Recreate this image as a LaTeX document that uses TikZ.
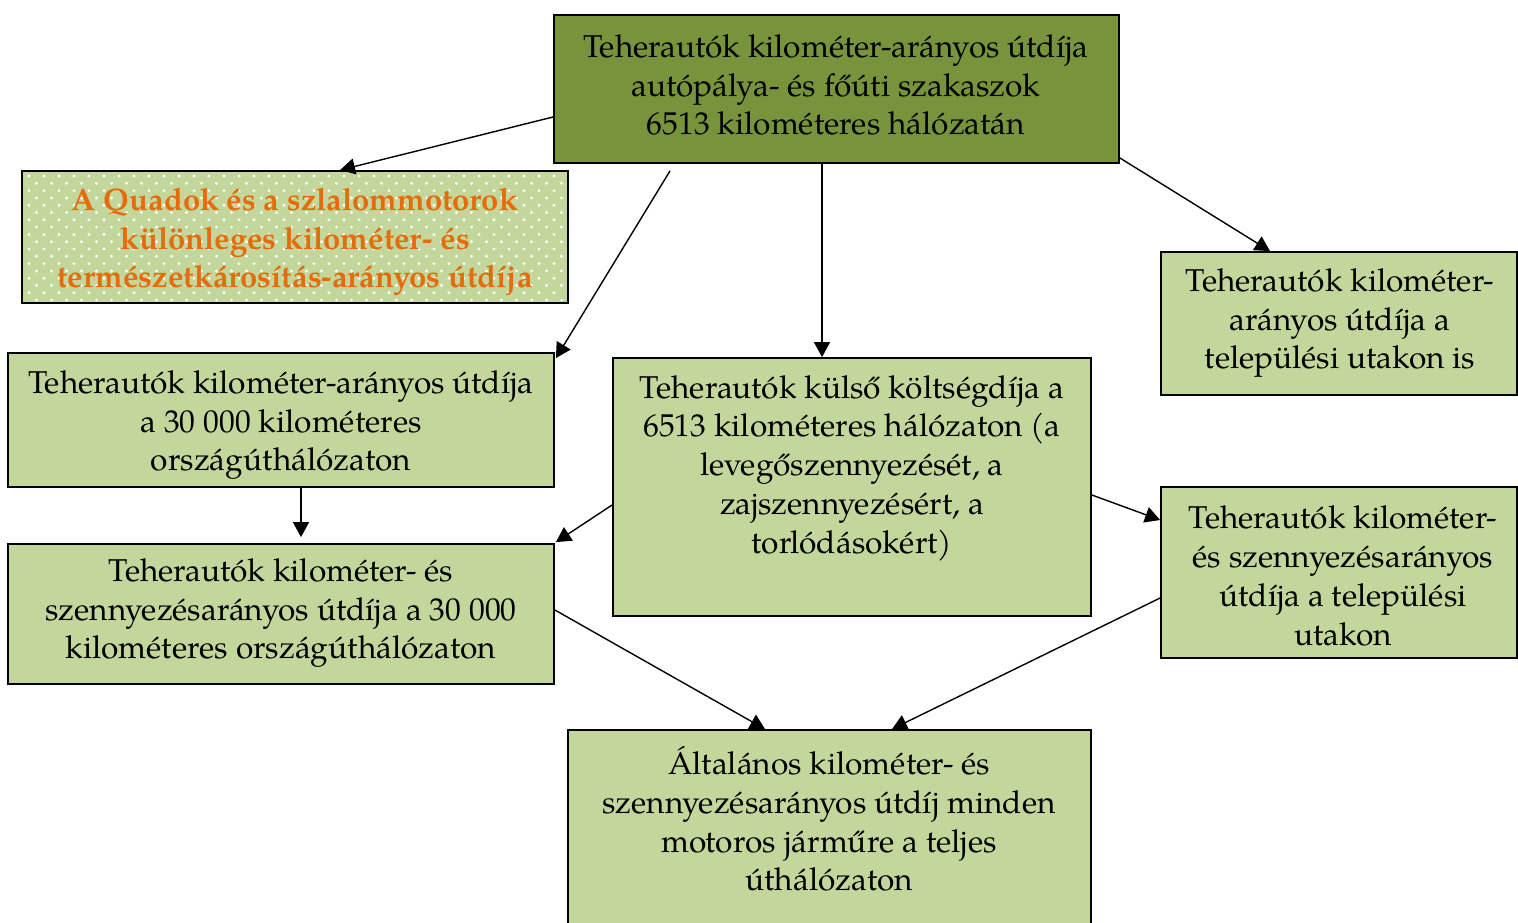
\documentclass[tikz,border=0pt]{standalone}
\usepackage{fontspec}
\setmainfont{texgyrepagella}[Extension=.otf,UprightFont=*-regular,BoldFont=*-bold,ItalicFont=*-italic,BoldItalicFont=*-bolditalic]
\usetikzlibrary{arrows.meta,fit,calc}
\definecolor{darkgreen}{HTML}{77933C}
\definecolor{lightgreen}{HTML}{C3D69B}
\definecolor{quadorange}{HTML}{E46C0A}
\tikzset{
  box/.style={draw=black,line width=0.9pt,rectangle,inner sep=0pt,fill=lightgreen},
  darkbox/.style={box,fill=darkgreen},
  txt/.style={align=center,inner sep=0pt,font=\fontsize{15.8}{19.4}\selectfont},
  quadtxt/.style={txt,text=quadorange,font=\fontsize{15.5}{19.2}\selectfont\bfseries},
  arr/.style={line width=0.7pt,-{Triangle[length=7.5pt,width=8pt]}}
}
\begin{document}
\begin{tikzpicture}[x=0.5pt,y=-0.5pt]
\useasboundingbox (0,0) rectangle (1518,922);
% boxes
\node[darkbox,fit={(554,15) (1119,163)}] (top) {};
\node[box,fit={(22,171) (568,303)}] (quad) {};
\begin{scope}
  \clip (23,172) rectangle (567,302);
  \foreach \r in {0,...,18}{
    \pgfmathsetmacro{\yy}{176+7.3*\r}
    \pgfmathsetmacro{\off}{mod(\r,2)*7.5}
    \foreach \c in {0,...,37}{
      \fill[white] ({29+\off+15*\c},\yy) circle (0.8pt);
    }
  }
\end{scope}
\node[box,fit={(8,353) (554,487)}] (L1) {};
\node[box,fit={(613,358) (1091,616)}] (mid) {};
\node[box,fit={(1161,252) (1517,395)}] (RT) {};
\node[box,fit={(8,544) (554,684)}] (L2) {};
\node[box,fit={(1161,487) (1517,658)}] (RB) {};
\node[box,fit={(568,730) (1091,940)}] (bot) {};
% texts
\node[txt] (topT) at (836,85) {Teherautók kilométer-arányos útdíja\\autópálya- és főúti szakaszok\\6513 kilométeres hálózatán};
\node[quadtxt] (quadT) at (295,242) {A Quadok és a szlalommotorok\\különleges kilométer- és\\természetkárosítás-arányos útdíja};
\node[txt] (L1T) at (281,425) {Teherautók kilométer-arányos útdíja\\a 30 000 kilométeres\\országúthálózaton};
\node[txt] (midT) at (852,468) {Teherautók külső költségdíja a\\6513 kilométeres hálózaton (a\\levegőszennyezését, a\\zajszennyezésért, a\\torlódásokért)};
\node[txt] (RTT) at (1340,323) {Teherautók kilométer-\\arányos útdíja a\\települési utakon is};
\node[txt] (L2T) at (281,613) {Teherautók kilométer- és\\szennyezésarányos útdíja a 30 000\\kilométeres országúthálózaton};
\node[txt] (RBT) at (1343,576) {Teherautók kilométer-\\és szennyezésarányos\\útdíja a települési\\utakon};
\node[txt] (botT) at (829,819) {Általános kilométer- és\\szennyezésarányos útdíj minden\\motoros járműre a teljes\\úthálózaton};
% connectors
\draw[arr] (top.west |- 0,117) -- (quad.north -| 340,0);
\draw[arr] ($(top.south -| 670,0)+(0,7)$) -- ($(L1.north east)+(1,6)$);
\draw[arr] (top.south -| 822,0) -- (mid.north -| 822,0);
\draw[arr] (top.east |- 0,158) -- (RT.north -| 1270,0);
\draw[arr] (L1.south -| 301,0) -- ($(L2.north -| 301,0)+(0,-6)$);
\draw[arr] (mid.west |- 0,505) -- ($(L2.north east)+(1,-1)$);
\draw[arr] (mid.east |- 0,495) -- (RB.west |- 0,520);
\draw[arr] (L2.east |- 0,610) -- (bot.north -| 765,0);
\draw[arr] (RB.west |- 0,598) -- (bot.north -| 892,0);
\end{tikzpicture}
\end{document}
